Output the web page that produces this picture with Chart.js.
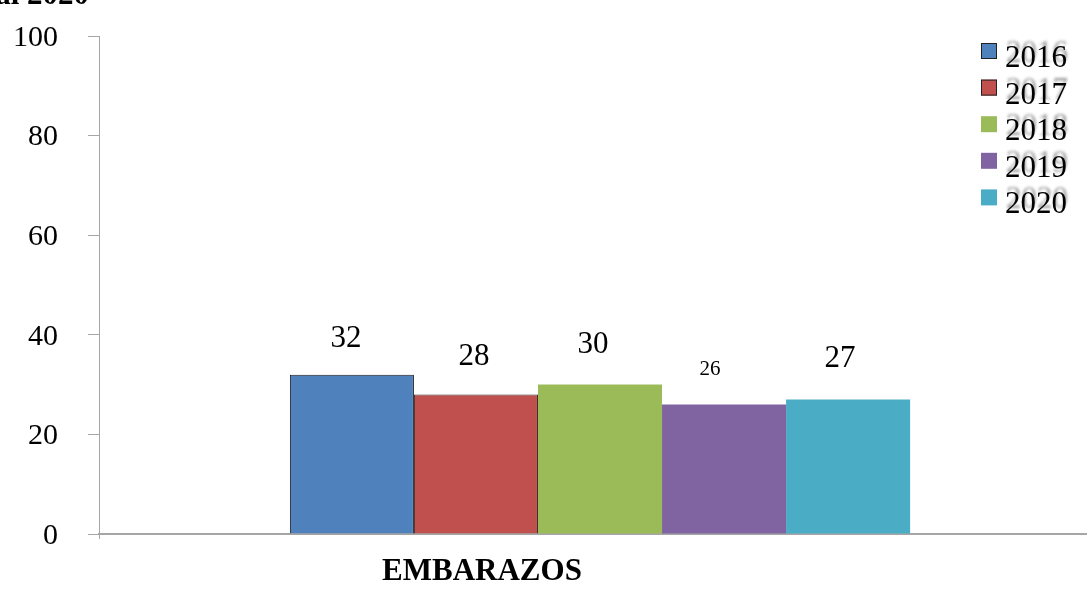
<!DOCTYPE html>
<html>
<head>
<meta charset="utf-8">
<script src="https://cdn.jsdelivr.net/npm/chart.js@4.4.1/dist/chart.umd.min.js"></script>
<style>
  html, body { margin: 0; padding: 0; background: #fff; overflow: hidden; width: 1087px; height: 589px; }
  #wrap { position: relative; width: 1120px; height: 589px; }
</style>
</head>
<body>
<div id="wrap"><canvas id="c" width="1120" height="589"></canvas></div>
<script>
const categories = ['EMBARAZOS'];
const seriesNames = ['2016', '2017', '2018', '2019', '2020'];
const values2016 = [32];
const values2017 = [28];
const values2018 = [30];
const values2019 = [26];
const values2020 = [27];
const yTicks = [0, 20, 40, 60, 80, 100];
const titleText = 'al 2020';

const colors = ['#4F81BD', '#C0504D', '#9BBB59', '#8064A2', '#4BACC6'];
const borderColors = ['#1a1a1a', '#3a2a2a', '#9BBB59', '#8064A2', '#4BACC6'];
const borderWidths = [1, 1, 0, 0, 0];
const seriesValues = [values2016, values2017, values2018, values2019, values2020];

const SERIF = '"Liberation Serif", "Times New Roman", Times, serif';

const dataLabelPlugin = {
  id: 'dataLabels',
  afterDatasetsDraw(chart, args, opts) {
    const ctx = chart.ctx;
    ctx.save();
    ctx.fillStyle = '#000';
    ctx.textAlign = 'center';
    ctx.textBaseline = 'middle';
    chart.data.datasets.forEach((ds, i) => {
      const meta = chart.getDatasetMeta(i);
      meta.data.forEach((bar, j) => {
        ctx.font = opts.sizes[i] + 'px ' + SERIF;
        ctx.fillText(String(ds.data[j]), bar.x + opts.dx[i], bar.y - opts.rise[i]);
      });
    });
    ctx.restore();
  }
};

const legendPlugin = {
  id: 'customLegend',
  afterDraw(chart, args, opts) {
    const ctx = chart.ctx;
    ctx.save();
    chart.data.datasets.forEach((ds, i) => {
      const y = opts.top + i * opts.step;
      ctx.fillStyle = ds.backgroundColor;
      ctx.fillRect(opts.x, y, opts.box, opts.box);
      if (ds.borderWidth > 0) {
        ctx.strokeStyle = '#222';
        ctx.lineWidth = 1;
        ctx.strokeRect(opts.x + 0.5, y + 0.5, opts.box - 1, opts.box - 1);
      }
      ctx.font = opts.size + 'px ' + SERIF;
      ctx.textAlign = 'left';
      ctx.textBaseline = 'alphabetic';
      ctx.shadowColor = 'rgba(0,0,0,0.4)';
      ctx.shadowBlur = 3;
      ctx.shadowOffsetX = 1;
      ctx.shadowOffsetY = -5;
      ctx.fillStyle = '#000';
      ctx.fillText(ds.label, opts.x + 24, y + 24);
      ctx.shadowColor = 'transparent';
    });
    ctx.restore();
  }
};

const titlePlugin = {
  id: 'clippedTitle',
  afterDraw(chart, args, opts) {
    const ctx = chart.ctx;
    ctx.save();
    ctx.font = 'bold 31px ' + SERIF;
    ctx.fillStyle = '#000';
    ctx.textAlign = 'right';
    ctx.textBaseline = 'alphabetic';
    ctx.fillText(opts.text, 89, 4);
    ctx.restore();
  }
};

new Chart(document.getElementById('c'), {
  type: 'bar',
  data: {
    labels: categories,
    datasets: seriesNames.map((name, i) => ({
      label: name,
      data: seriesValues[i],
      backgroundColor: colors[i],
      borderColor: borderColors[i],
      borderWidth: borderWidths[i],
      categoryPercentage: 0.619,
      barPercentage: 1.0
    }))
  },
  options: {
    responsive: false,
    animation: false,
    layout: { padding: { top: 36, right: 19, bottom: 0, left: 0 } },
    plugins: {
      legend: { display: false },
      tooltip: { enabled: false },
      title: { display: false },
      dataLabels: {
        sizes: [31, 31, 31, 21, 31],
        dx: [-6, -2, -7, -14, -8],
        rise: [36, 38, 40, 35, 41]
      },
      customLegend: { x: 981, top: 43, step: 36.6, box: 16, size: 31 },
      clippedTitle: { text: titleText }
    },
    scales: {
      x: {
        afterFit(scale) { scale.height = 55; scale.paddingLeft = 0; scale.paddingRight = 0; },
        grid: { display: true, drawOnChartArea: false, tickLength: 5, color: '#a6a6a6', offset: true },
        border: { display: true, color: '#a6a6a6', width: 2 },
        ticks: {
          font: { family: SERIF, size: 31, weight: 'bold' },
          color: '#000',
          padding: 14,
          labelOffset: -118
        }
      },
      y: {
        min: 0,
        max: 100,
        afterFit(scale) { scale.width = 99; scale.paddingTop = 0; scale.paddingBottom = 0; },
        afterBuildTicks(scale) { scale.ticks = yTicks.map(v => ({ value: v })); },
        grid: { display: true, drawOnChartArea: false, tickLength: 11, color: '#a6a6a6' },
        border: { display: true, color: '#a6a6a6', width: 1 },
        ticks: {
          font: { family: SERIF, size: 30 },
          color: '#000',
          padding: 30,
          labelOffset: 2
        }
      }
    }
  },
  plugins: [dataLabelPlugin, legendPlugin, titlePlugin]
});
</script>
</body>
</html>
